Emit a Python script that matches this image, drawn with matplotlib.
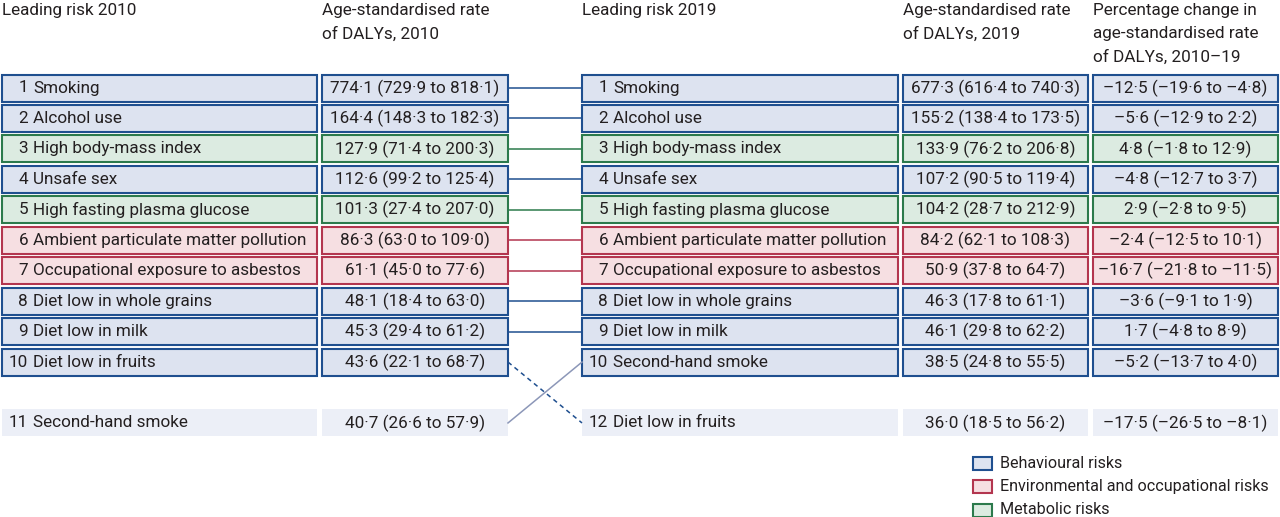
import matplotlib.pyplot as plt
from matplotlib.patches import Rectangle

plt.rcParams["font.family"] = ["Roboto", "DejaVu Sans"]

# ---- data ----
risks_2010 = ["Smoking", "Alcohol use", "High body-mass index", "Unsafe sex",
              "High fasting plasma glucose", "Ambient particulate matter pollution",
              "Occupational exposure to asbestos", "Diet low in whole grains",
              "Diet low in milk", "Diet low in fruits", "Second-hand smoke"]
ranks_2010 = [1, 2, 3, 4, 5, 6, 7, 8, 9, 10, 11]
rates_2010 = ["774·1 (729·9 to 818·1)", "164·4 (148·3 to 182·3)", "127·9 (71·4 to 200·3)",
              "112·6 (99·2 to 125·4)", "101·3 (27·4 to 207·0)", "86·3 (63·0 to 109·0)",
              "61·1 (45·0 to 77·6)", "48·1 (18·4 to 63·0)", "45·3 (29·4 to 61·2)",
              "43·6 (22·1 to 68·7)", "40·7 (26·6 to 57·9)"]

risks_2019 = ["Smoking", "Alcohol use", "High body-mass index", "Unsafe sex",
              "High fasting plasma glucose", "Ambient particulate matter pollution",
              "Occupational exposure to asbestos", "Diet low in whole grains",
              "Diet low in milk", "Second-hand smoke", "Diet low in fruits"]
ranks_2019 = [1, 2, 3, 4, 5, 6, 7, 8, 9, 10, 12]
rates_2019 = ["677·3 (616·4 to 740·3)", "155·2 (138·4 to 173·5)", "133·9 (76·2 to 206·8)",
              "107·2 (90·5 to 119·4)", "104·2 (28·7 to 212·9)", "84·2 (62·1 to 108·3)",
              "50·9 (37·8 to 64·7)", "46·3 (17·8 to 61·1)", "46·1 (29·8 to 62·2)",
              "38·5 (24·8 to 55·5)", "36·0 (18·5 to 56·2)"]
pct_change = ["–12·5 (–19·6 to –4·8)", "–5·6 (–12·9 to 2·2)", "4·8 (–1·8 to 12·9)",
              "–4·8 (–12·7 to 3·7)", "2·9 (–2·8 to 9·5)", "–2·4 (–12·5 to 10·1)",
              "–16·7 (–21·8 to –11·5)", "–3·6 (–9·1 to 1·9)", "1·7 (–4·8 to 8·9)",
              "–5·2 (–13·7 to 4·0)", "–17·5 (–26·5 to –8·1)"]

risk_groups = ["Behavioural", "Behavioural", "Metabolic", "Behavioural", "Metabolic",
               "Environmental", "Environmental", "Behavioural", "Behavioural",
               "Behavioural", "Behavioural"]
group_of = dict(zip(risks_2010, risk_groups))

legend_labels = ["Behavioural risks", "Environmental and occupational risks", "Metabolic risks"]
legend_groups = ["Behavioural", "Environmental", "Metabolic"]

# ---- styling ----
FILL = {"Behavioural": "#dde3f0", "Environmental": "#f6dfe2", "Metabolic": "#dcebe1"}
EDGE = {"Behavioural": "#1f4f8f", "Environmental": "#b3364f", "Metabolic": "#2c7a4c"}
OUT_FILL = "#eceff7"
TXT = "#231f20"
FS = 12.3
LEG_FS = 11.6

cols = [(2, 317), (322, 508), (582, 898), (903, 1088), (1093, 1278)]
headers = ["Leading risk 2010", "Age-standardised rate\nof DALYs, 2010", "Leading risk 2019",
           "Age-standardised rate\nof DALYs, 2019",
           "Percentage change in\nage-standardised rate\nof DALYs, 2010–19"]
ROW0, PITCH, BOX_H = 88, 30.45, 27


def slot_y(rank):
    slot = rank - 1 if rank <= 10 else 11
    return ROW0 + PITCH * slot


def box(ax, col, y, group, top10):
    x0, x1 = cols[col]
    if top10:
        ax.add_patch(Rectangle((x0, y - BOX_H / 2), x1 - x0, BOX_H, facecolor=FILL[group],
                               edgecolor=EDGE[group], linewidth=1.5))
    else:
        ax.add_patch(Rectangle((x0, y - BOX_H / 2), x1 - x0, BOX_H, facecolor=OUT_FILL,
                               edgecolor="none"))


def risk_label(ax, col, y, rank, name):
    x0 = cols[col][0]
    ax.text(x0 + 26, y, str(rank), ha="right", va="center", fontsize=FS, color=TXT)
    ax.text(x0 + 31, y, name, ha="left", va="center", fontsize=FS, color=TXT)


def centred(ax, col, y, s):
    x0, x1 = cols[col]
    ax.text((x0 + x1) / 2, y, s, ha="center", va="center", fontsize=FS, color=TXT)


fig = plt.figure(figsize=(12.8, 5.17), dpi=100)
ax = fig.add_axes([0, 0, 1, 1])
ax.set_xlim(0, 1280)
ax.set_ylim(517, 0)
ax.axis("off")

for h, (x0, _) in zip(headers, cols):
    ax.text(x0, 3, h, ha="left", va="top", fontsize=FS, color=TXT, linespacing=1.68)

for name, rank, rate in zip(risks_2010, ranks_2010, rates_2010):
    y = slot_y(rank)
    g = group_of[name]
    box(ax, 0, y, g, rank <= 10)
    box(ax, 1, y, g, rank <= 10)
    risk_label(ax, 0, y, rank, name)
    centred(ax, 1, y, rate)

for name, rank, rate, pc in zip(risks_2019, ranks_2019, rates_2019, pct_change):
    y = slot_y(rank)
    g = group_of[name]
    for c in (2, 3, 4):
        box(ax, c, y, g, rank <= 10)
    risk_label(ax, 2, y, rank, name)
    centred(ax, 3, y, rate)
    centred(ax, 4, y, pc)

# connectors between the two rankings
for name, r0 in zip(risks_2010, ranks_2010):
    r1 = ranks_2019[risks_2019.index(name)]
    g = group_of[name]
    color = EDGE[g] if r0 <= 10 else "#8c97b8"
    if r1 > r0:
        ax.plot([cols[1][1], cols[2][0]], [slot_y(r0), slot_y(r1)], color=color,
                linewidth=1.1, linestyle=(0, (3, 2.5)))
    else:
        ax.plot([cols[1][1], cols[2][0]], [slot_y(r0), slot_y(r1)], color=color,
                linewidth=1.1)

# legend
for i, (lab, g) in enumerate(zip(legend_labels, legend_groups)):
    y = 463 + 23.5 * i
    ax.add_patch(Rectangle((973, y - 6.5), 19, 13, facecolor=FILL[g], edgecolor=EDGE[g],
                           linewidth=1.5))
    ax.text(1000, y, lab, ha="left", va="center", fontsize=LEG_FS, color=TXT)

fig.savefig("out.png", dpi=100)
